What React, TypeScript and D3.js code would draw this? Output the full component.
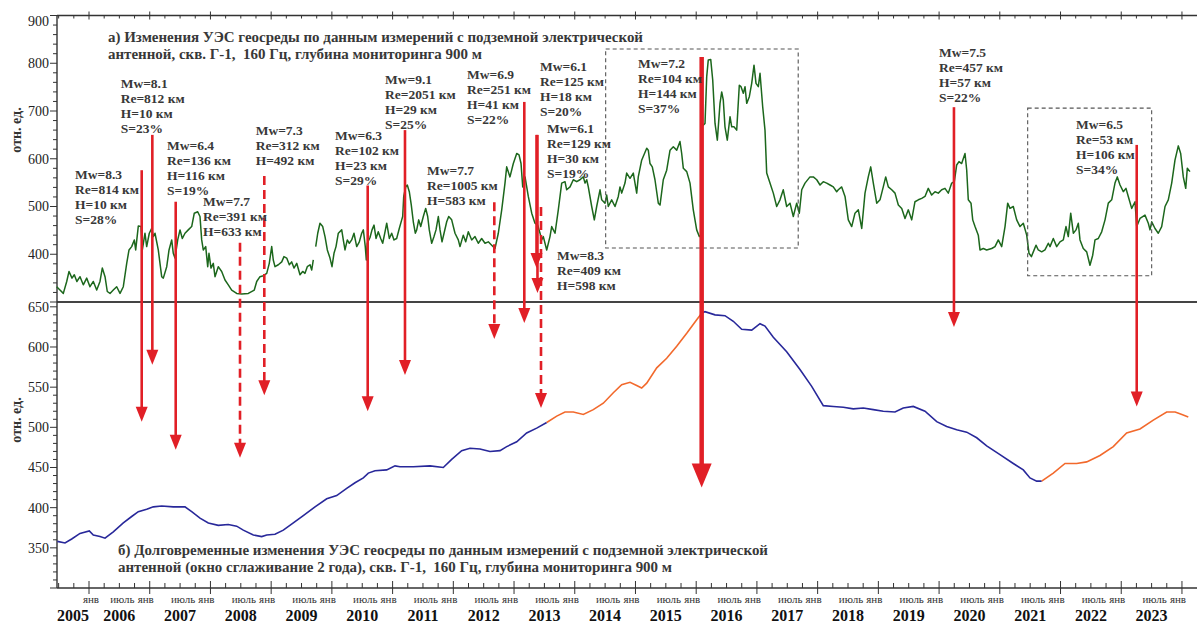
import * as d3 from "d3";

// панель а) — УЭС, отн. ед.; [год, значение]
const greenEarly: [number, number][] = [
  [2005.468, 332], [2005.522, 325], [2005.577, 318], [2005.633, 343], [2005.671, 364], [2005.72, 350],
  [2005.758, 357], [2005.8, 343], [2005.852, 353], [2005.906, 336], [2005.962, 350], [2006.016, 332],
  [2006.071, 343], [2006.127, 325], [2006.181, 343], [2006.219, 371], [2006.264, 353], [2006.301, 322],
  [2006.346, 318], [2006.4, 325], [2006.456, 332], [2006.511, 318], [2006.565, 332], [2006.621, 381],
  [2006.659, 409], [2006.703, 416], [2006.746, 430], [2006.769, 409], [2006.812, 459], [2006.856, 458],
  [2006.878, 409], [2006.922, 444], [2006.95, 416], [2006.993, 444], [2007.033, 454], [2007.059, 437],
  [2007.087, 444], [2007.141, 409], [2007.197, 353], [2007.224, 350], [2007.28, 374], [2007.318, 409],
  [2007.362, 430], [2007.388, 402], [2007.416, 392], [2007.461, 430], [2007.499, 451], [2007.537, 433],
  [2007.581, 444], [2007.635, 451], [2007.691, 458], [2007.734, 486], [2007.79, 489], [2007.828, 479],
  [2007.856, 430], [2007.882, 409], [2007.922, 416], [2007.955, 374], [2007.976, 402], [2008.009, 371],
  [2008.047, 381], [2008.075, 353], [2008.129, 374], [2008.185, 364], [2008.24, 346], [2008.294, 336],
  [2008.35, 325], [2008.432, 318], [2008.515, 317], [2008.624, 318], [2008.722, 325], [2008.762, 343],
  [2008.816, 353], [2008.871, 355], [2008.927, 360], [2008.969, 381], [2009.009, 416], [2009.035, 388],
  [2009.063, 374], [2009.118, 378], [2009.174, 384], [2009.211, 395], [2009.256, 392], [2009.299, 378],
  [2009.338, 384], [2009.376, 371], [2009.421, 381], [2009.475, 357], [2009.519, 364], [2009.557, 360],
  [2009.595, 374], [2009.64, 378], [2009.668, 367], [2009.694, 388],
];

const greenLate: [number, number][] = [
  [2009.734, 416], [2009.767, 444], [2009.804, 465], [2009.849, 458], [2009.887, 437], [2009.925, 409],
  [2009.969, 392], [2010.002, 374], [2010.035, 402], [2010.068, 416], [2010.106, 444], [2010.162, 451],
  [2010.188, 430], [2010.216, 409], [2010.254, 430], [2010.287, 423], [2010.326, 430], [2010.364, 444],
  [2010.409, 416], [2010.452, 426], [2010.491, 444], [2010.518, 451], [2010.55, 416], [2010.567, 388],
  [2010.583, 423], [2010.628, 435], [2010.661, 451], [2010.694, 461], [2010.727, 433], [2010.764, 447],
  [2010.804, 433], [2010.837, 423], [2010.875, 447], [2010.903, 465], [2010.946, 433], [2010.985, 444],
  [2011.023, 430], [2011.067, 433], [2011.11, 454], [2011.15, 472], [2011.166, 479], [2011.183, 521],
  [2011.216, 541], [2011.242, 545], [2011.275, 531], [2011.308, 503], [2011.341, 468], [2011.374, 444],
  [2011.397, 451], [2011.43, 472], [2011.463, 458], [2011.506, 479], [2011.545, 496], [2011.578, 479],
  [2011.604, 451], [2011.644, 423], [2011.682, 437], [2011.715, 451], [2011.753, 479], [2011.781, 451],
  [2011.814, 426], [2011.847, 444], [2011.891, 468], [2011.924, 479], [2011.973, 472], [2012.028, 444],
  [2012.082, 430], [2012.11, 416], [2012.164, 440], [2012.204, 426], [2012.247, 447], [2012.303, 430],
  [2012.357, 437], [2012.411, 423], [2012.467, 433], [2012.522, 423], [2012.576, 426], [2012.632, 419],
  [2012.686, 412], [2012.741, 444], [2012.797, 493], [2012.851, 549], [2012.879, 583], [2012.933, 562],
  [2012.988, 590], [2013.044, 611], [2013.082, 608], [2013.115, 590], [2013.143, 541], [2013.181, 562],
  [2013.235, 521], [2013.291, 486], [2013.345, 465], [2013.39, 461], [2013.428, 444], [2013.455, 430],
  [2013.482, 437], [2013.538, 409], [2013.592, 437], [2013.62, 458], [2013.675, 444], [2013.729, 493],
  [2013.785, 549], [2013.839, 552], [2013.867, 535], [2013.922, 541], [2013.976, 556], [2014.032, 552],
  [2014.086, 556], [2014.141, 562], [2014.169, 549], [2014.197, 556], [2014.223, 541], [2014.279, 500],
  [2014.322, 472], [2014.361, 500], [2014.416, 535], [2014.444, 514], [2014.498, 507], [2014.526, 524],
  [2014.552, 500], [2014.608, 514], [2014.663, 500], [2014.717, 521], [2014.745, 541], [2014.773, 528],
  [2014.827, 549], [2014.855, 570], [2014.91, 559], [2014.964, 570], [2015.02, 528], [2015.046, 562],
  [2015.102, 597], [2015.185, 622], [2015.211, 618], [2015.239, 590], [2015.277, 583], [2015.321, 556],
  [2015.376, 507], [2015.404, 503], [2015.458, 556], [2015.514, 576], [2015.569, 618], [2015.623, 625],
  [2015.679, 618], [2015.733, 636], [2015.761, 611], [2015.788, 580], [2015.844, 573], [2015.898, 549],
  [2015.952, 493], [2016.008, 451], [2016.051, 437], [2016.079, 440], [2016.09, 667], [2016.145, 674],
  [2016.173, 772], [2016.199, 807], [2016.239, 808], [2016.272, 765], [2016.31, 674], [2016.348, 639],
  [2016.392, 716], [2016.42, 740], [2016.446, 723], [2016.474, 667], [2016.512, 639], [2016.557, 688],
  [2016.585, 667], [2016.622, 667], [2016.667, 660], [2016.71, 754], [2016.738, 751], [2016.776, 737],
  [2016.804, 751], [2016.832, 716], [2016.875, 730], [2016.914, 758], [2016.952, 796], [2016.985, 758],
  [2017.023, 751], [2017.051, 779], [2017.095, 709], [2017.133, 660], [2017.161, 570], [2017.215, 549],
  [2017.27, 528], [2017.326, 500], [2017.38, 514], [2017.434, 535], [2017.49, 500], [2017.545, 507],
  [2017.599, 479], [2017.655, 507], [2017.698, 486], [2017.738, 535], [2017.792, 549], [2017.874, 562],
  [2017.929, 562], [2017.985, 556], [2018.039, 545], [2018.093, 552], [2018.149, 549], [2018.204, 545],
  [2018.258, 541], [2018.314, 531], [2018.34, 535], [2018.396, 541], [2018.451, 521], [2018.505, 472],
  [2018.561, 458], [2018.615, 486], [2018.67, 493], [2018.726, 454], [2018.78, 528], [2018.834, 562],
  [2018.874, 583], [2018.917, 549], [2018.973, 507], [2019.027, 514], [2019.081, 541], [2019.121, 562],
  [2019.164, 541], [2019.22, 535], [2019.274, 528], [2019.329, 503], [2019.385, 496], [2019.439, 475],
  [2019.493, 493], [2019.549, 472], [2019.603, 510], [2019.658, 514], [2019.714, 517], [2019.768, 521],
  [2019.822, 538], [2019.878, 524], [2019.933, 531], [2019.987, 528], [2020.043, 535], [2020.097, 538],
  [2020.152, 528], [2020.208, 549], [2020.251, 552], [2020.29, 587], [2020.328, 594], [2020.372, 590],
  [2020.427, 611], [2020.455, 576], [2020.481, 514], [2020.526, 507], [2020.554, 472], [2020.592, 458],
  [2020.646, 440], [2020.674, 409], [2020.728, 412], [2020.784, 409], [2020.866, 412], [2020.921, 416],
  [2020.975, 430], [2021.031, 416], [2021.086, 458], [2021.13, 507], [2021.168, 496], [2021.222, 500],
  [2021.278, 472], [2021.333, 458], [2021.387, 465], [2021.443, 440], [2021.481, 402], [2021.52, 395],
  [2021.552, 405], [2021.596, 419], [2021.634, 409], [2021.69, 405], [2021.744, 409], [2021.799, 423],
  [2021.827, 416], [2021.881, 433], [2021.937, 416], [2021.991, 426], [2022.046, 430], [2022.09, 458],
  [2022.128, 437], [2022.168, 486], [2022.211, 444], [2022.255, 451], [2022.293, 465], [2022.321, 430],
  [2022.375, 412], [2022.431, 405], [2022.485, 377], [2022.53, 398], [2022.568, 430], [2022.622, 433],
  [2022.678, 447], [2022.733, 472], [2022.787, 507], [2022.843, 514], [2022.897, 549], [2022.935, 562],
  [2022.98, 545], [2023.034, 531], [2023.078, 538], [2023.116, 521], [2023.172, 496], [2023.227, 510],
  [2023.255, 458], [2023.309, 475], [2023.391, 482], [2023.446, 465], [2023.474, 451], [2023.502, 468],
  [2023.556, 454], [2023.61, 444], [2023.666, 458], [2023.721, 500], [2023.775, 514], [2023.831, 549],
  [2023.885, 597], [2023.94, 627], [2023.979, 611], [2024.022, 562], [2024.062, 538], [2024.088, 580],
  [2024.132, 573],
];

// панель б) — сглаженный ряд (синие и оранжевые участки)
const blueFirst: [number, number][] = [
  [2005.478, 358], [2005.605, 356], [2005.715, 361], [2005.852, 368], [2006.005, 371], [2006.071, 366],
  [2006.181, 364], [2006.264, 362], [2006.4, 370], [2006.565, 381], [2006.703, 389], [2006.812, 395],
  [2006.95, 398], [2007.059, 401], [2007.197, 402], [2007.388, 401], [2007.581, 401], [2007.691, 395],
  [2007.828, 387], [2007.965, 381], [2008.129, 378], [2008.294, 379], [2008.432, 377], [2008.541, 372],
  [2008.706, 366], [2008.844, 364], [2008.927, 366], [2009.063, 367], [2009.2, 372], [2009.365, 381],
  [2009.529, 390], [2009.722, 401], [2009.915, 411], [2010.079, 415], [2010.244, 424], [2010.381, 431],
  [2010.518, 437], [2010.6, 443], [2010.71, 446], [2010.903, 447], [2011.04, 452], [2011.122, 451],
  [2011.341, 451], [2011.616, 452], [2011.835, 450], [2011.973, 460], [2012.138, 471], [2012.275, 474],
  [2012.439, 473], [2012.604, 470], [2012.769, 471], [2012.879, 476], [2013.044, 482], [2013.208, 493],
  [2013.373, 499], [2013.538, 506],
];
const orangeFirst: [number, number][] = [
  [2013.538, 506], [2013.703, 514], [2013.839, 519], [2013.976, 519], [2014.141, 516], [2014.305, 522],
  [2014.47, 530], [2014.635, 543], [2014.773, 553], [2014.91, 556], [2015.02, 552], [2015.102, 549],
  [2015.185, 555], [2015.35, 574], [2015.514, 586], [2015.679, 601], [2015.844, 617], [2016.008, 634],
  [2016.09, 642],
];
const blueSecond: [number, number][] = [
  [2016.09, 642], [2016.145, 644], [2016.31, 640], [2016.474, 639], [2016.611, 632], [2016.749, 622],
  [2016.914, 621], [2017.051, 629], [2017.133, 626], [2017.27, 612], [2017.49, 594], [2017.709, 572],
  [2017.902, 551], [2018.093, 527], [2018.258, 526], [2018.423, 525], [2018.587, 523], [2018.752, 524],
  [2018.917, 522], [2019.081, 520], [2019.274, 519], [2019.41, 524], [2019.575, 526], [2019.768, 520],
  [2019.961, 507], [2020.125, 501], [2020.29, 497], [2020.455, 494], [2020.62, 487], [2020.784, 477],
  [2021.003, 466], [2021.222, 455], [2021.387, 447], [2021.497, 437], [2021.607, 433], [2021.69, 433],
];
const orangeSecond: [number, number][] = [
  [2021.69, 433], [2021.881, 443], [2022.074, 455], [2022.266, 455], [2022.431, 457], [2022.65, 465],
  [2022.869, 476], [2023.089, 493], [2023.309, 498], [2023.528, 509], [2023.748, 519], [2023.888, 519],
  [2023.999, 516], [2024.104, 513],
];

const years = d3.range(2005, 2024);
const ticksA = [400, 500, 600, 700, 800, 900];
const ticksB = [350, 400, 450, 500, 550, 600, 650];

// землетрясения: дата, тип стрелки, подпись
const quakes = [
  { date: 2006.868, dashed: false, big: false, text: ["Mw=8.3", "Re=814 км", "H=10 км", "S=28%"] },
  { date: 2007.043, dashed: false, big: false, text: ["Mw=8.1", "Re=812 км", "H=10 км", "S=23%"] },
  { date: 2007.428, dashed: false, big: false, text: ["Mw=6.4", "Re=136 км", "H=116 км", "S=19%"] },
  { date: 2008.487, dashed: true, big: false, text: ["Mw=7.7", "Re=391 км", "H=633 км"] },
  { date: 2008.887, dashed: true, big: false, text: ["Mw=7.3", "Re=312 км", "H=492 км"] },
  { date: 2010.59, dashed: false, big: false, text: ["Mw=6.3", "Re=102 км", "H=23 км", "S=29%"] },
  { date: 2011.204, dashed: false, big: false, text: ["Mw=9.1", "Re=2051 км", "H=29 км", "S=25%"] },
  { date: 2012.675, dashed: true, big: false, text: ["Mw=7.7", "Re=1005 км", "H=583 км"] },
  { date: 2013.169, dashed: false, big: false, text: ["Mw=6.9", "Re=251 км", "H=41 км", "S=22%"] },
  { date: 2013.37, dashed: false, big: false, text: ["Mw=6.1", "Re=125 км", "H=18 км", "S=20%"] },
  { date: 2013.386, dashed: false, big: false, text: ["Mw=6.1", "Re=129 км", "H=30 км", "S=19%"] },
  { date: 2013.444, dashed: true, big: false, text: ["Mw=8.3", "Re=409 км", "H=598 км"] },
  { date: 2016.09, dashed: false, big: true, text: ["Mw=7.2", "Re=104 км", "H=144 км", "S=37%"] },
  { date: 2020.245, dashed: false, big: false, text: ["Mw=7.5", "Re=457 км", "H=57 км", "S=22%"] },
  { date: 2023.255, dashed: false, big: false, text: ["Mw=6.5", "Re=53 км", "H=106 км", "S=34%"] },
];

// начало стрелки (шкала а), конец (шкала а или б), место подписи [год, значение шкалы а]
const arrowSpans: { from: number; to: number; panel: "a" | "b" }[] = [
  { from: 576, to: 507, panel: "b" }, { from: 650, to: 578, panel: "b" }, { from: 510, to: 472, panel: "b" },
  { from: 424, to: 462, panel: "b" }, { from: 564, to: 540, panel: "b" }, { from: 544, to: 520, panel: "b" },
  { from: 660, to: 565, panel: "b" }, { from: 509, to: 610, panel: "b" }, { from: 719, to: 630, panel: "b" },
  { from: 650, to: 371, panel: "a" }, { from: 650, to: 319, panel: "a" }, { from: 499, to: 524, panel: "b" },
  { from: 813, to: 425, panel: "b" }, { from: 708, to: 625, panel: "b" }, { from: 629, to: 526, panel: "b" },
];
const labelSpots: [number, number][] = [
  [2005.769, 567], [2006.522, 757], [2007.285, 627], [2007.877, 510], [2008.745, 660], [2010.051, 648],
  [2010.875, 767], [2011.567, 576], [2012.225, 777], [2013.427, 794], [2013.543, 664], [2013.708, 398],
  [2015.042, 800], [2019.999, 823], [2022.255, 671],
];

// пунктирные рамки: [год1, год2, значение1, значение2] по шкале а
const boxes: [number, number, number, number][] = [
  [2014.509, 2017.68, 830, 413],
  [2021.459, 2023.501, 706, 355],
];

const RED = "#e11f26";
const GREEN = "#1c671c";
const BLUE = "#28289a";
const ORANGE = "#f2692c";
const TEXT = "#383838";
const SERIF = "'Liberation Serif', 'Times New Roman', serif";

export default function App() {
  const W = 1197, H = 623;
  const left = 57;
  const x = d3.scaleLinear().domain([2006, 2024]).range([89, 89 + 18 * 60.72]);
  const yA = d3.scaleLinear().domain([300, 900]).range([302, 15.5]);
  const yB = d3.scaleLinear().domain([300, 656]).range([588, 302]);
  const lineA = d3.line<[number, number]>().x((d) => x(d[0])).y((d) => yA(d[1]));
  const lineB = d3.line<[number, number]>().x((d) => x(d[0])).y((d) => yB(d[1]));

  const xTicks = d3.range(2005.5, 2024.01, 0.25);
  const minorA = d3.range(300, 901, 20);
  const minorB = d3.range(300, 651, 10);

  const labelSize = 13.5;

  return (
    <svg width={W} height={H} style={{ position: "absolute", left: 0, top: 0, background: "#fff" }}
      fontFamily={SERIF}>
      <rect width={W} height={H} fill="#fff" />

      {/* рамки и оси */}
      <line x1={left} x2={W} y1={yA(900)} y2={yA(900)} stroke="#333" strokeWidth={1.4} />
      <line x1={left} x2={W} y1={302} y2={302} stroke="#444" strokeWidth={1.8} />
      <line x1={left} x2={W} y1={588} y2={588} stroke="#333" strokeWidth={1.4} />
      <line x1={left} x2={left} y1={yA(900)} y2={588} stroke="#333" strokeWidth={1.4} />

      {minorA.map((v) => (
        <line key={"ma" + v} x1={left - (v % 100 === 0 ? 7 : 4)} x2={left} y1={yA(v)} y2={yA(v)}
          stroke="#333" strokeWidth={1} />
      ))}
      {minorB.map((v) => (
        <line key={"mb" + v} x1={left - (v % 50 === 0 ? 7 : 4)} x2={left} y1={yB(v)} y2={yB(v)}
          stroke="#333" strokeWidth={1} />
      ))}
      {ticksA.map((v) => (
        <text key={"ta" + v} x={49} y={yA(v) + (v === 900 ? 5.5 : 0)} dy="0.35em" textAnchor="end"
          fontSize={14} fill="#222">{v}</text>
      ))}
      {ticksB.map((v) => (
        <text key={"tb" + v} x={49} y={yB(v)} dy="0.35em" textAnchor="end" fontSize={14} fill="#222">{v}</text>
      ))}

      {xTicks.map((t) => {
        const major = Math.abs(t - Math.round(t)) < 1e-6;
        const px = x(t);
        return (
          <g key={"xt" + t}>
            <line x1={px} x2={px} y1={major ? 581 : 583} y2={major ? 594 : 588} stroke="#333" strokeWidth={1} />
            <line x1={px} x2={px} y1={major ? 11.5 : 15.5} y2={major ? 19.5 : 18.5} stroke="#333" strokeWidth={1} />
          </g>
        );
      })}
      {d3.range(2006, 2025).map((yr, i) => (
        <text key={"jan" + yr} x={x(yr) + (i === 0 ? 2 : -4)} y={603} textAnchor="middle" fontSize={11} fill="#333">
          янв
        </text>
      ))}
      {d3.range(2006.5, 2024, 1).map((yr) => (
        <text key={"jul" + yr} x={x(yr) + 3} y={603} textAnchor="middle" fontSize={11} fill="#333">
          июль
        </text>
      ))}
      {years.map((yr) => (
        <text key={"yr" + yr} x={yr === 2005 ? (left + x(2006)) / 2 : x(yr + 0.5)} y={621} textAnchor="middle"
          fontSize={16} fontWeight="bold" fill="#111">{yr}</text>
      ))}

      <text transform="translate(16,130) rotate(-90)" textAnchor="middle" dy="0.35em" fontSize={14}
        fontWeight="bold" fill="#333">отн. ед.</text>
      <text transform="translate(16,420) rotate(-90)" textAnchor="middle" dy="0.35em" fontSize={14}
        fontWeight="bold" fill="#333">отн. ед.</text>

      {/* заголовки */}
      <g fontWeight="bold" fontSize={14.5} fill={TEXT}>
        <text x={108} y={41.5} textLength={535} lengthAdjust="spacingAndGlyphs">
          а) Изменения УЭС геосреды по данным измерений с подземной электрической
        </text>
        <text x={108} y={58.5} textLength={374} lengthAdjust="spacingAndGlyphs" xmlSpace="preserve">
          антенной, скв. Г-1,  160 Гц, глубина мониторинга 900 м
        </text>
        <text x={118} y={555} textLength={650} lengthAdjust="spacingAndGlyphs">
          б) Долговременные изменения УЭС геосреды по данным измерений с подземной электрической
        </text>
        <text x={118} y={571.5} textLength={554} lengthAdjust="spacingAndGlyphs" xmlSpace="preserve">
          антенной (окно сглаживание 2 года), скв. Г-1,  160 Гц, глубина мониторинга 900 м
        </text>
      </g>

      {/* ряды */}
      <path d={lineA(greenEarly) ?? ""} fill="none" stroke={GREEN} strokeWidth={1.5} strokeLinejoin="round" />
      <path d={lineA(greenLate) ?? ""} fill="none" stroke={GREEN} strokeWidth={1.5} strokeLinejoin="round" />
      <path d={lineB(blueFirst) ?? ""} fill="none" stroke={BLUE} strokeWidth={1.6} />
      <path d={lineB(orangeFirst) ?? ""} fill="none" stroke={ORANGE} strokeWidth={1.6} />
      <path d={lineB(blueSecond) ?? ""} fill="none" stroke={BLUE} strokeWidth={1.6} />
      <path d={lineB(orangeSecond) ?? ""} fill="none" stroke={ORANGE} strokeWidth={1.6} />

      {boxes.map((b, i) => (
        <rect key={"box" + i} x={x(b[0])} y={yA(b[2])} width={x(b[1]) - x(b[0])} height={yA(b[3]) - yA(b[2])}
          fill="none" stroke="#555" strokeWidth={1.1} strokeDasharray="4,3" />
      ))}

      {/* стрелки */}
      {quakes.map((q, i) => {
        const s = arrowSpans[i];
        const cx = x(q.date);
        const y1 = yA(s.from);
        const y2 = s.panel === "a" ? yA(s.to) : yB(s.to);
        const hw = q.big ? 10 : 6;
        const hl = q.big ? 24 : 15;
        return (
          <g key={"ar" + i}>
            <line x1={cx} x2={cx} y1={y1} y2={y2 - hl + 1} stroke={RED} strokeWidth={q.big ? 4.5 : 2.6}
              strokeDasharray={q.dashed ? "9,5" : undefined} />
            <path d={`M${cx - hw},${y2 - hl}L${cx + hw},${y2 - hl}L${cx},${y2}Z`} fill={RED} />
          </g>
        );
      })}

      {/* подписи */}
      {quakes.map((q, i) => {
        const [d, v] = labelSpots[i];
        const y0 = yA(v) + 0.34 * labelSize;
        return (
          <text key={"lb" + i} x={x(d)} y={y0} fontSize={labelSize} fontWeight="bold" fill={TEXT}>
            {q.text.map((t, j) => (
              <tspan key={j} x={x(d)} y={y0 + j * 15}>{t}</tspan>
            ))}
          </text>
        );
      })}
    </svg>
  );
}
